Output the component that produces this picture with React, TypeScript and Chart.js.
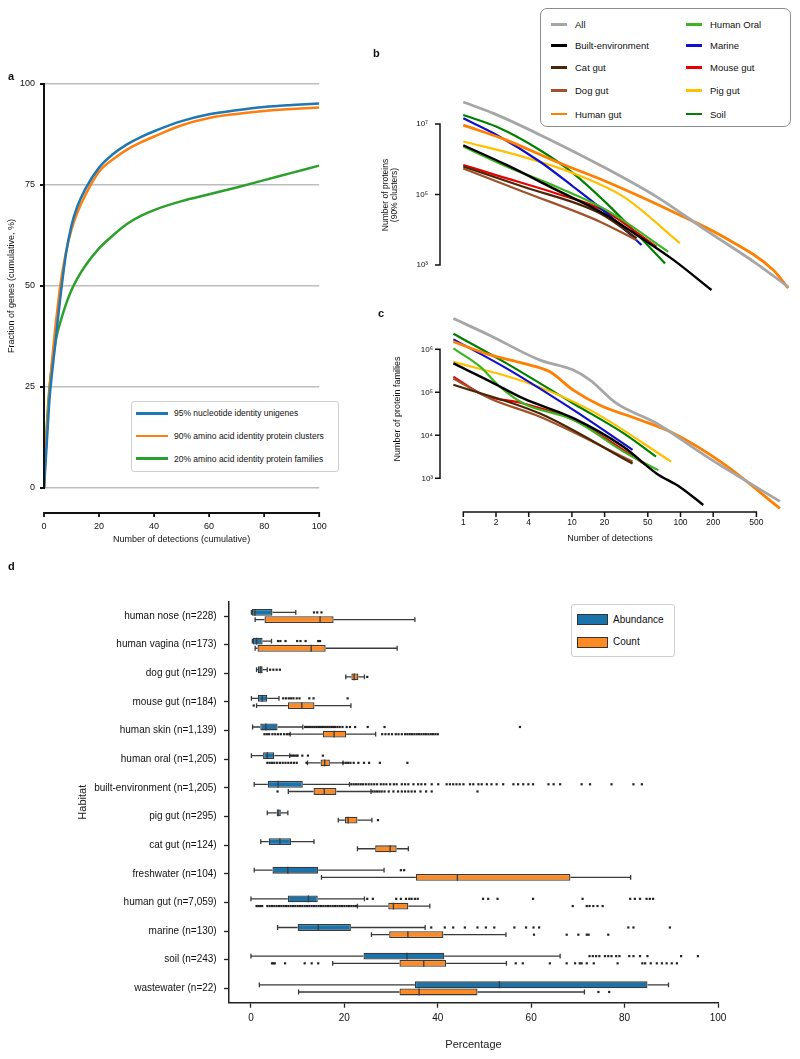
import React, { useEffect, useRef } from 'react';
import { Chart, registerables } from 'chart.js';

Chart.register(...registerables);

const FONT = '"Liberation Sans", Arial, Helvetica, sans-serif';
Chart.defaults.font.family = FONT;
Chart.defaults.color = '#111';

// ---------------- Panel a ----------------
const aDetections = [0, 1, 2, 3, 4, 5, 6, 8, 10, 12, 15, 20, 25, 30, 35, 40, 50, 60, 70, 80, 90, 100];
const aUnigenes95 = [0, 11, 22, 29, 35, 41.5, 47.5, 58, 65, 69.5, 74, 79.3, 82.6, 85, 86.8, 88.3, 90.8, 92.5, 93.5, 94.3, 94.8, 95.2];
const aClusters90 = [0, 14, 24, 32, 39, 45, 50.5, 58.5, 64, 68, 72.5, 78.3, 81.3, 83.7, 85.5, 87, 89.8, 91.6, 92.6, 93.3, 93.8, 94.2];
const aFamilies20 = [0, 15, 25, 31, 35.5, 38.8, 41.2, 45.5, 49, 51.7, 55, 59.3, 62.5, 65.3, 67.3, 68.8, 71, 72.7, 74.4, 76.2, 78, 79.8];
const aSeriesNames = [
  '95% nucleotide identity unigenes',
  '90% amino acid identity protein clusters',
  '20% amino acid identity protein families',
];
const aColors = ['#1f77b4', '#ff7f0e', '#2ca02c'];
const aTicksX = [0, 20, 40, 60, 80, 100];
const aTicksY = [0, 25, 50, 75, 100];

// ---------------- Panels b & c ----------------
const habitatNames = ['All', 'Built-environment', 'Cat gut', 'Dog gut', 'Human gut', 'Human Oral', 'Marine', 'Mouse gut', 'Pig gut', 'Soil'];
const habitatColors = ['#a6a6a6', '#000000', '#4a2506', '#a0522d', '#ff8000', '#3cb521', '#1010cc', '#e60000', '#ffc000', '#008000'];
const habitatWidths = [2.8, 2.4, 2.2, 2.2, 2.8, 2.2, 2.2, 2.2, 2.2, 2.2];

// b: number of proteins (90% clusters) vs number of detections
const bAllX = [1, 1.9, 5.1, 18, 60, 175, 500, 980];
const bAllY = [4.2e7, 2.0e7, 4.9e6, 6.9e5, 8.7e4, 9.3e3, 1.1e3, 240];
const bBuiltX = [1, 2.5, 7.2, 19.4, 42, 86, 193];
const bBuiltY = [2.5e6, 6.9e5, 1.35e5, 2.95e4, 6.3e3, 1.4e3, 195];
const bCatX = [1, 3.57, 18.1, 39.4];
const bCatY = [6.2e5, 1.66e5, 2.95e4, 5.8e3];
const bDogX = [1, 3.57, 18.1, 39.4];
const bDogY = [5.5e5, 1.2e5, 1.7e4, 5.1e3];
const bHgutX = [1, 2.5, 7.2, 20.9, 86, 248, 718, 980];
const bHgutY = [9.3e6, 3.5e6, 8.5e5, 2.3e5, 3.2e4, 6.3e3, 710, 220];
const bOralX = [1, 2.5, 7.2, 20.9, 77];
const bOralY = [2.3e6, 6.2e5, 1.66e5, 3.6e4, 2.4e3];
const bMarineX = [1, 2.03, 5.1, 10.3, 20.9, 43.8];
const bMarineY = [1.45e7, 4.9e6, 8.5e5, 1.66e5, 2.95e4, 3.7e3];
const bMouseX = [1, 2.03, 7.2, 19.4, 60];
const bMouseY = [6.9e5, 3.5e5, 1.07e5, 3.6e4, 3.3e3];
const bPigX = [1, 3.57, 10.3, 29.8, 98.6];
const bPigY = [3.2e6, 1.17e6, 4.0e5, 8.7e4, 4.2e3];
const bSoilX = [1, 2.03, 5.1, 10.3, 20.9, 42, 72];
const bSoilY = [1.8e7, 8.3e6, 1.8e6, 4.0e5, 5.6e4, 6.3e3, 1.1e3];
const bTicksY = [1e3, 1e5, 1e7];
const bTickLabelsY = ['10³', '10⁵', '10⁷'];

// c: number of protein families vs number of detections
const cAllX = [0.81, 1.76, 5.08, 10.3, 14.6, 25.8, 60, 174, 823];
const cAllY = [5.2e6, 2.1e6, 5.6e5, 3.3e5, 1.95e5, 5.5e4, 1.9e4, 3.2e3, 290];
const cBuiltX = [0.81, 1.76, 3.57, 10.3, 29.8, 60, 98.6, 162];
const cBuiltY = [4.7e5, 1.8e5, 7.2e4, 2.5e4, 5.4e3, 1.3e3, 630, 240];
const cCatX = [0.81, 5.08, 36.2];
const cCatY = [1.5e5, 3.2e4, 2.2e3];
const cDogX = [0.81, 1.76, 5.08, 36.2];
const cDogY = [2.1e5, 7.2e4, 2.7e4, 2.45e3];
const cHgutX = [0.81, 1.76, 3.57, 6.27, 10.3, 18.1, 42, 86, 248, 823];
const cHgutY = [1.5e6, 7.4e5, 4.7e5, 3.0e5, 1.12e5, 5.0e4, 2.3e4, 1.12e4, 2.2e3, 200];
const cOralX = [0.81, 1.42, 2.17, 3.57, 10.3, 31.8, 62.5];
const cOralY = [1.05e6, 4.0e5, 1.35e5, 5.5e4, 2.3e4, 3.8e3, 1.55e3];
const cMarineX = [0.81, 2.5, 10.3, 36.2];
const cMarineY = [1.7e6, 3.6e5, 3.9e4, 4.6e3];
const cMouseX = [0.81, 1.53, 3.57, 10.3, 50.5];
const cMouseY = [2.3e5, 8.7e4, 5.5e4, 2.3e4, 1.9e3];
const cPigX = [0.81, 3.57, 14.6, 82];
const cPigY = [5.1e5, 1.8e5, 3.9e4, 2.45e3];
const cSoilX = [0.81, 2.5, 10.3, 29.8, 59.5];
const cSoilY = [2.3e6, 4.7e5, 5.5e4, 1.12e4, 3.2e3];
const cTicksY = [1e3, 1e4, 1e5, 1e6];
const cTickLabelsY = ['10³', '10⁴', '10⁵', '10⁶'];
const cTicksX = [1, 2, 4, 10, 20, 50, 100, 200, 500];
const cTickLabelsX = ['1', '2', '4', '10', '20', '50', '100', '200', '500'];

// ---------------- Panel d ----------------
const habitats = [
  'human nose (n=228)', 'human vagina (n=173)', 'dog gut (n=129)', 'mouse gut (n=184)',
  'human skin (n=1,139)', 'human oral (n=1,205)', 'built-environment (n=1,205)', 'pig gut (n=295)',
  'cat gut (n=124)', 'freshwater (n=104)', 'human gut (n=7,059)', 'marine (n=130)', 'soil (n=243)', 'wastewater (n=22)',
];
// [whisker low, Q1, median, Q3, whisker high]
const abundanceBox = [
  [0.1, 0.2, 0.85, 4.6, 9.6],
  [0.3, 0.4, 1.2, 2.5, 4.4],
  [1.2, 1.5, 2.1, 2.5, 3.5],
  [0.1, 1.5, 2.4, 3.5, 6.0],
  [0.35, 2.0, 3.2, 5.7, 11.1],
  [0.1, 2.6, 3.5, 5.0, 8.3],
  [0.7, 3.6, 5.8, 11.1, 21.1],
  [3.5, 5.5, 5.8, 6.4, 7.9],
  [2.1, 3.8, 6.2, 8.6, 13.5],
  [0.7, 4.6, 7.9, 14.4, 28.5],
  [0, 7.9, 12.3, 14.3, 24.3],
  [5.7, 10.0, 14.4, 21.4, 37.3],
  [0, 24.1, 33.4, 41.4, 66.2],
  [1.8, 35.1, 53.2, 84.9, 89.4],
];
const countBox = [
  [0.9, 2.9, 14.8, 17.7, 35.1],
  [0.9, 1.4, 12.9, 16.0, 31.3],
  [20.3, 21.5, 22.1, 23.0, 24.3],
  [1.2, 7.9, 10.9, 13.6, 21.4],
  [8.4, 15.4, 17.8, 20.4, 26.7],
  [12.1, 14.9, 15.8, 16.9, 19.7],
  [8.0, 13.4, 15.7, 18.3, 25.7],
  [18.7, 20.1, 20.8, 22.8, 25.9],
  [22.8, 26.6, 29.8, 31.2, 33.7],
  [15.1, 35.3, 44.2, 68.4, 81.3],
  [22.8, 29.4, 30.5, 33.7, 38.3],
  [25.8, 29.6, 33.6, 41.2, 54.6],
  [17.5, 31.8, 37.0, 41.8, 54.7],
  [10.2, 31.8, 36.0, 48.5, 71.4],
];
const abundanceOutliers = [
  [13.5, 14.2, 15.1],
  [5.8, 6.3, 7.4, 9.9, 10.6, 11.7, 14.4, 14.8],
  [4.1, 4.8, 5.5, 6.2],
  [6.9, 7.5, 8.1, 8.6, 9.1, 9.8, 10.4, 12.5, 13.4, 20.7],
  [11.6, 12.0, 12.4, 12.8, 13.2, 13.6, 14.0, 14.4, 14.8, 15.2, 15.6, 16.0, 16.4, 16.8, 17.2, 17.6, 18.0, 18.5, 19.0, 19.6, 20.5, 21.2, 22.3, 25.0, 28.6, 57.6],
  [8.6, 9.0, 9.3, 9.7, 10.0, 11.0, 12.2, 15.4],
  [21.5, 22.0, 22.5, 23.0, 23.5, 24.0, 24.6, 25.2, 25.8, 26.4, 27.0, 27.8, 28.4, 29.0, 29.8, 30.6, 31.2, 32.3, 33.0, 33.7, 34.8, 35.8, 36.5, 37.3, 38.7, 40.1, 41.9, 42.6, 43.3, 44.0, 44.7, 45.5, 46.9, 47.6, 48.7, 49.4, 50.5, 51.5, 52.6, 54.0, 56.2, 57.2, 58.3, 59.4, 60.4, 63.7, 64.8, 66.2, 70.8, 72.6, 77.2, 81.9, 83.7],
  [],
  [],
  [32.1, 32.8],
  [24.9, 26.1, 31.1, 32.1, 33.2, 33.9, 34.4, 35.1, 35.7, 49.7, 50.8, 52.8, 60.4, 71.0, 81.2, 82.2, 83.3, 84.7, 85.4, 86.1],
  [38.6, 41.5, 43.3, 45.8, 48.5, 50.3, 52.1, 56.4, 58.9, 60.5, 61.7, 80.8, 81.9, 89.7],
  [72.5, 73.2, 73.9, 74.6, 75.8, 76.5, 77.2, 78.2, 78.9, 81.0, 81.9, 83.3, 84.9, 92.1, 95.7],
  [],
];
const countOutliers = [
  [],
  [],
  [24.9],
  [0.6],
  [2.9, 3.4, 3.9, 4.6, 5.2, 5.8, 6.4, 7.1, 7.7, 8.2, 28.1, 28.8, 29.5, 30.2, 31.0, 31.6, 32.3, 33.0, 33.5, 34.0, 34.5, 35.0, 35.5, 36.0, 36.5, 37.0, 37.5, 38.0, 38.5, 39.0, 39.5, 40.0],
  [3.5, 4.0, 4.5, 5.0, 5.6, 6.2, 6.8, 7.4, 8.0, 8.6, 9.2, 9.8, 11.9, 19.8, 20.3, 20.8, 21.3, 22.0, 23.0, 24.2, 25.3, 27.6, 33.5],
  [5.7, 26.0, 26.5, 27.0, 27.5, 28.0, 28.6, 29.5, 30.5, 31.5, 32.3, 33.0, 33.7, 34.4, 35.1, 36.3, 37.5, 38.7, 48.5],
  [27.2],
  [],
  [],
  [1.2, 1.6, 2.0, 2.4, 3.5, 4.0, 4.5, 5.0, 5.5, 6.0, 6.5, 7.0, 7.5, 8.0, 8.5, 9.0, 9.5, 10.0, 10.5, 11.0, 11.5, 12.0, 12.5, 13.0, 13.5, 14.0, 14.5, 15.0, 15.5, 16.0, 16.5, 17.0, 17.5, 18.0, 18.5, 19.0, 19.5, 20.0, 20.5, 21.0, 21.5, 22.0, 22.5, 68.9, 71.9, 72.5, 73.3, 74.2, 75.3],
  [60.6, 67.6, 70.1, 71.9, 72.3, 76.5],
  [4.5, 4.8, 5.1, 7.3, 11.5, 13.0, 14.4, 56.7, 58.2, 64.0, 67.6, 69.4, 70.4, 70.8, 71.9, 73.4, 78.5, 83.8, 84.4, 85.6, 86.9, 88.0, 89.0, 90.1, 91.2],
  [74.4, 76.7],
];
const dSeriesNames = ['Abundance', 'Count'];
const dColors = ['#1a73aa', '#fd8a22'];
const dTicksX = [0, 20, 40, 60, 80, 100];

// ---------------- helpers ----------------
type Spine = { axis: 'x' | 'y'; offset: number; from: number; to: number; ticks: number[]; len: number; lw: number };

function spines(list: Spine[]) {
  return {
    id: 'spines',
    afterDraw(chart: any) {
      const { ctx, chartArea } = chart;
      ctx.save();
      ctx.strokeStyle = '#111';
      for (const s of list) {
        const sc = chart.scales[s.axis];
        ctx.lineWidth = s.lw;
        ctx.beginPath();
        const a = sc.getPixelForValue(s.from);
        const b = sc.getPixelForValue(s.to);
        if (s.axis === 'x') {
          const y = chartArea.bottom + s.offset;
          ctx.moveTo(a - s.lw / 2, y);
          ctx.lineTo(b + s.lw / 2, y);
          for (const t of s.ticks) {
            const x = sc.getPixelForValue(t);
            ctx.moveTo(x, y);
            ctx.lineTo(x, y + s.len);
          }
        } else {
          const x = chartArea.left - s.offset;
          ctx.moveTo(x, a + s.lw / 2);
          ctx.lineTo(x, b - s.lw / 2);
          for (const t of s.ticks) {
            const y = sc.getPixelForValue(t);
            ctx.moveTo(x, y);
            ctx.lineTo(x - s.len, y);
          }
        }
        ctx.stroke();
      }
      ctx.restore();
    },
  };
}

const boxDetails = {
  id: 'boxDetails',
  afterDatasetsDraw(chart: any) {
    const ctx = chart.ctx;
    const xs = chart.scales.x;
    const px = (v: number) => xs.getPixelForValue(v);
    const sets: [number[][], number[][]][] = [
      [abundanceBox, abundanceOutliers],
      [countBox, countOutliers],
    ];
    ctx.save();
    sets.forEach(([boxes, outs], d) => {
      const meta = chart.getDatasetMeta(d);
      meta.data.forEach((el: any, i: number) => {
        const [lo, q1, med, q3, hi] = boxes[i];
        const y = el.y;
        const h = el.height;
        ctx.strokeStyle = '#3a3a3a';
        ctx.lineWidth = 1.3;
        ctx.beginPath();
        if (lo < q1) {
          ctx.moveTo(px(lo), y);
          ctx.lineTo(px(q1), y);
        }
        if (hi > q3) {
          ctx.moveTo(px(q3), y);
          ctx.lineTo(px(hi), y);
        }
        ctx.moveTo(px(lo), y - 2.4);
        ctx.lineTo(px(lo), y + 2.4);
        ctx.moveTo(px(hi), y - 2.4);
        ctx.lineTo(px(hi), y + 2.4);
        ctx.moveTo(px(med), y - h / 2);
        ctx.lineTo(px(med), y + h / 2);
        ctx.stroke();
        ctx.fillStyle = '#222';
        for (const v of outs[i]) ctx.fillRect(px(v) - 1.1, y - 1.1, 2.2, 2.2);
      });
    });
    ctx.restore();
  },
};

function lineSets(series: [number[], number[]][]) {
  return series.map(([xs, ys], i) => ({
    label: habitatNames[i],
    data: xs.map((x, j) => ({ x, y: ys[j] })),
    borderColor: habitatColors[i],
    backgroundColor: habitatColors[i],
    borderWidth: habitatWidths[i],
    pointRadius: 0,
    cubicInterpolationMode: 'monotone',
    clip: false,
  }));
}

// ---------------- chart configs ----------------
function makeA(): any {
  const series = [aUnigenes95, aClusters90, aFamilies20];
  return {
    type: 'line',
    data: {
      datasets: series.map((vals, i) => ({
        label: aSeriesNames[i],
        data: aDetections.map((x, j) => ({ x, y: vals[j] })),
        borderColor: aColors[i],
        backgroundColor: aColors[i],
        borderWidth: 2.5,
        pointRadius: 0,
        cubicInterpolationMode: 'monotone',
      })),
    },
    options: {
      responsive: false,
      animation: false,
      devicePixelRatio: 1,
      layout: { padding: { left: 0, right: 17, top: 24, bottom: 0 } },
      plugins: { legend: { display: false }, tooltip: { enabled: false } },
      scales: {
        x: {
          type: 'linear', min: 0, max: 100,
          grid: { display: false, drawTicks: false },
          border: { display: false },
          afterBuildTicks: (s: any) => { s.ticks = aTicksX.map((v) => ({ value: v })); },
          ticks: { padding: 33.3, font: { size: 9 }, maxRotation: 0, autoSkip: false },
          title: { display: true, text: 'Number of detections (cumulative)', font: { size: 9 }, padding: { top: 0, bottom: 14.6 } },
          afterFit: (s: any) => { s.height = 72; },
        },
        y: {
          type: 'linear', min: 0, max: 100,
          grid: { color: '#bdbdbd', lineWidth: 1.5, drawTicks: false },
          border: { display: false },
          afterBuildTicks: (s: any) => { s.ticks = aTicksY.map((v) => ({ value: v })); },
          ticks: { padding: 9, font: { size: 9 } },
          title: { display: true, text: 'Fraction of genes (cumulative, %)', font: { size: 9 }, padding: { top: 6.6, bottom: 0 } },
          afterFit: (s: any) => { s.width = 44; },
        },
      },
    },
    plugins: [spines([
      { axis: 'x', offset: 25, from: 0, to: 100, ticks: aTicksX, len: 4, lw: 1.8 },
      { axis: 'y', offset: 0, from: 0, to: 100, ticks: aTicksY, len: 4, lw: 2 },
    ])],
  };
}

function makeB(): any {
  const series: [number[], number[]][] = [
    [bAllX, bAllY], [bBuiltX, bBuiltY], [bCatX, bCatY], [bDogX, bDogY], [bHgutX, bHgutY],
    [bOralX, bOralY], [bMarineX, bMarineY], [bMouseX, bMouseY], [bPigX, bPigY], [bSoilX, bSoilY],
  ];
  return {
    type: 'line',
    data: { datasets: lineSets(series) },
    options: {
      responsive: false,
      animation: false,
      devicePixelRatio: 1,
      layout: { padding: { left: 0, right: 5, top: 55, bottom: 33 } },
      plugins: { legend: { display: false }, tooltip: { enabled: false } },
      scales: {
        x: { type: 'logarithmic', min: 0.839, max: 1133, display: false },
        y: {
          type: 'logarithmic', min: 141, max: 6.65e7,
          grid: { display: false, drawTicks: false },
          border: { display: false },
          afterBuildTicks: (s: any) => { s.ticks = bTicksY.map((v) => ({ value: v })); },
          ticks: { callback: (_v: any, i: number) => bTickLabelsY[i], padding: 27, font: { size: 8 }, autoSkip: false },
          title: { display: true, text: ['Number of proteins', '(90% clusters)'], font: { size: 8.5, lineHeight: 1 }, padding: { top: 11.75, bottom: 0 } },
          afterFit: (s: any) => { s.width = 85; },
        },
      },
    },
    plugins: [spines([{ axis: 'y', offset: 15, from: 1e3, to: 1e7, ticks: bTicksY, len: 5, lw: 1.5 }])],
  };
}

function makeC(): any {
  const series: [number[], number[]][] = [
    [cAllX, cAllY], [cBuiltX, cBuiltY], [cCatX, cCatY], [cDogX, cDogY], [cHgutX, cHgutY],
    [cOralX, cOralY], [cMarineX, cMarineY], [cMouseX, cMouseY], [cPigX, cPigY], [cSoilX, cSoilY],
  ];
  return {
    type: 'line',
    data: { datasets: lineSets(series) },
    options: {
      responsive: false,
      animation: false,
      devicePixelRatio: 1,
      layout: { padding: { left: 0, right: 30, top: 23, bottom: 0 } },
      plugins: { legend: { display: false }, tooltip: { enabled: false } },
      scales: {
        x: {
          type: 'logarithmic', min: 0.754, max: 667,
          grid: { display: false, drawTicks: false },
          border: { display: false },
          afterBuildTicks: (s: any) => { s.ticks = cTicksX.map((v) => ({ value: v })); },
          ticks: { callback: (_v: any, i: number) => cTickLabelsX[i], padding: 9.6, font: { size: 8.5 }, autoSkip: false, maxRotation: 0 },
          title: { display: true, text: 'Number of detections', font: { size: 9 }, padding: { top: 0, bottom: 14.6 } },
          afterFit: (s: any) => { s.height = 51; },
        },
        y: {
          type: 'logarithmic', min: 204, max: 8.2e6,
          grid: { display: false, drawTicks: false },
          border: { display: false },
          afterBuildTicks: (s: any) => { s.ticks = cTicksY.map((v) => ({ value: v })); },
          ticks: { callback: (_v: any, i: number) => cTickLabelsY[i], padding: 17, font: { size: 8 }, autoSkip: false },
          title: { display: true, text: 'Number of protein families', font: { size: 9 }, padding: { top: 22.6, bottom: 0 } },
          afterFit: (s: any) => { s.width = 80; },
        },
      },
    },
    plugins: [spines([
      { axis: 'y', offset: 10, from: 1e3, to: 1e6, ticks: cTicksY, len: 5, lw: 1.5 },
      { axis: 'x', offset: 4, from: 1, to: 500, ticks: cTicksX, len: 5, lw: 1.5 },
    ])],
  };
}

function makeD(): any {
  const boxes = [abundanceBox, countBox];
  return {
    type: 'bar',
    data: {
      labels: habitats,
      datasets: boxes.map((b, d) => ({
        label: dSeriesNames[d],
        data: b.map((s) => [s[1], s[3]]),
        backgroundColor: dColors[d],
        borderColor: '#3a3a3a',
        borderWidth: 1.3,
        borderSkipped: false,
        categoryPercentage: 0.503,
        barPercentage: 0.95,
      })),
    },
    options: {
      indexAxis: 'y',
      responsive: false,
      animation: false,
      devicePixelRatio: 1,
      layout: { padding: { left: 0, right: 82, top: 13.7, bottom: 0 } },
      plugins: { legend: { display: false }, tooltip: { enabled: false } },
      scales: {
        x: {
          type: 'linear', min: -4.7, max: 100,
          afterBuildTicks: (s: any) => { s.ticks = dTicksX.map((v) => ({ value: v })); },
          grid: { drawOnChartArea: false, drawTicks: true, tickLength: 5, tickColor: '#222', tickWidth: 1.3 },
          border: { display: true, color: '#222', width: 1.5 },
          ticks: { padding: 4.3, font: { size: 10 }, maxRotation: 0, autoSkip: false },
          title: { display: true, text: 'Percentage', font: { size: 11 }, color: '#222', padding: { top: 0, bottom: 7.4 } },
          afterFit: (s: any) => { s.height = 56.3; },
        },
        y: {
          type: 'category', offset: true,
          grid: { offset: false, drawOnChartArea: false, drawTicks: true, tickLength: 5, tickColor: '#222', tickWidth: 1.3 },
          border: { display: true, color: '#222', width: 1.5 },
          ticks: { padding: 7.3, font: { size: 10 }, autoSkip: false },
          title: { display: true, text: 'Habitat', font: { size: 11 }, color: '#222', padding: { top: 76.7, bottom: 0 } },
          afterFit: (s: any) => { s.width = 229; },
        },
      },
    },
    plugins: [boxDetails],
  };
}

// ---------------- components ----------------
function ChartCanvas({ left, top, width, height, make }: { left: number; top: number; width: number; height: number; make: () => any }) {
  const ref = useRef<HTMLCanvasElement | null>(null);
  useEffect(() => {
    if (!ref.current) return;
    const chart = new Chart(ref.current, make());
    return () => chart.destroy();
  }, [make]);
  return (
    <canvas
      ref={ref}
      width={width}
      height={height}
      style={{ position: 'absolute', left, top, width, height, display: 'block' }}
    />
  );
}

const abs = (s: React.CSSProperties): React.CSSProperties => ({ position: 'absolute', ...s });

function PanelLetter({ letter, left, top }: { letter: string; left: number; top: number }) {
  return (
    <div style={abs({ left, top, fontSize: 11, lineHeight: '11px', fontWeight: 'bold', color: '#111' })}>{letter}</div>
  );
}

const bLegendRows = [24.5, 45.5, 67.5, 90.5, 114];
const aLegendRows = [413.3, 436, 458.7];
const dLegendRows = [619.5, 642];

export default function App() {
  return (
    <div style={abs({ left: 0, top: 0, width: 800, height: 1059, background: '#fff', fontFamily: FONT, color: '#111', overflow: 'hidden' })}>
      <ChartCanvas left={0} top={60} width={360} height={500} make={makeA} />
      <ChartCanvas left={370} top={40} width={430} height={288} make={makeB} />
      <ChartCanvas left={370} top={287} width={430} height={272} make={makeC} />
      <ChartCanvas left={0} top={588} width={800} height={471} make={makeD} />

      <PanelLetter letter="a" left={8} top={70.7} />
      <PanelLetter letter="b" left={373} top={47.7} />
      <PanelLetter letter="c" left={378} top={308.2} />
      <PanelLetter letter="d" left={8} top={560.7} />

      {/* legend a */}
      <div style={abs({ left: 131, top: 401, width: 208, height: 71, border: '1px solid #cfcfcf', borderRadius: 3, background: '#fff', boxSizing: 'border-box' })} />
      {aSeriesNames.map((name, i) => (
        <React.Fragment key={name}>
          <div style={abs({ left: 136, top: aLegendRows[i] - 1.25, width: 32, height: 2.5, background: aColors[i] })} />
          <div style={abs({ left: 174, top: aLegendRows[i] - 6, fontSize: 8.5, lineHeight: '12px', whiteSpace: 'nowrap' })}>{name}</div>
        </React.Fragment>
      ))}

      {/* legend b */}
      <div style={abs({ left: 540, top: 8, width: 251, height: 119, border: '1.5px solid #8c8c8c', borderRadius: 7, background: '#fff', boxSizing: 'border-box' })} />
      {habitatNames.map((name, i) => {
        const col = i < 5 ? 0 : 1;
        const row = i % 5;
        const lx = col === 0 ? 551 : 686;
        const tx = col === 0 ? 575 : 710;
        const y = bLegendRows[row];
        return (
          <React.Fragment key={name}>
            <div style={abs({ left: lx, top: y - 1.25, width: 16, height: 2.5, background: habitatColors[i] })} />
            <div style={abs({ left: tx, top: y - 6.5, fontSize: 9.5, lineHeight: '13px', whiteSpace: 'nowrap' })}>{name}</div>
          </React.Fragment>
        );
      })}

      {/* legend d */}
      <div style={abs({ left: 571, top: 604, width: 104, height: 53, border: '1px solid #cfcfcf', borderRadius: 3, background: '#fff', boxSizing: 'border-box' })} />
      {dSeriesNames.map((name, i) => (
        <React.Fragment key={name}>
          <div style={abs({ left: 577, top: dLegendRows[i] - 5.5, width: 31, height: 11, background: dColors[i], border: '1px solid #333', boxSizing: 'border-box' })} />
          <div style={abs({ left: 613, top: dLegendRows[i] - 7, fontSize: 10, lineHeight: '14px', whiteSpace: 'nowrap' })}>{name}</div>
        </React.Fragment>
      ))}
    </div>
  );
}
